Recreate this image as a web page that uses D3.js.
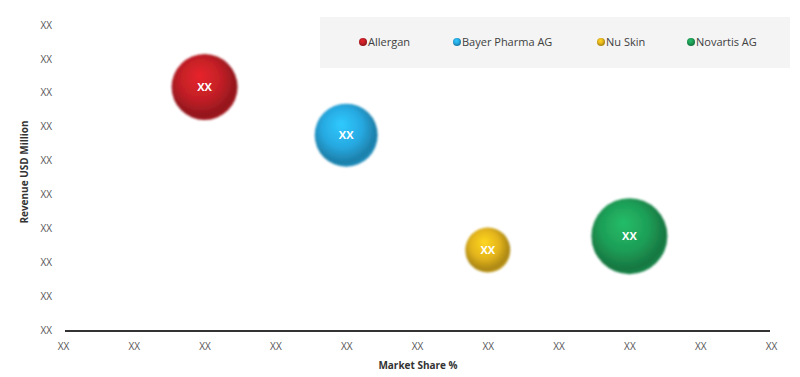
<!DOCTYPE html>
<html><head><meta charset="utf-8">
<script src="https://cdn.jsdelivr.net/npm/d3@7"></script>
<style>body{margin:0;background:#fff;}svg{display:block;font-family:"Open Sans","Liberation Sans",sans-serif;}</style>
</head><body>
<svg id="c" width="800" height="377"></svg>
<script>
const companies = ["Allergan", "Bayer Pharma AG", "Nu Skin", "Novartis AG"];
const marketShare = [2, 4, 6, 8];
const revenue = [7.17, 5.75, 2.36, 2.77];
const bubbleSize = [33, 31.5, 22.5, 38];
const bubbleLabels = ["XX", "XX", "XX", "XX"];
const colors = ["#c21f26", "#27a9e1", "#e3b41c", "#1e9e57"];
const xTickLabels = ["XX","XX","XX","XX","XX","XX","XX","XX","XX","XX","XX"];
const yTickLabels = ["XX","XX","XX","XX","XX","XX","XX","XX","XX","XX"];

const svg = d3.select("#c");
const x = d3.scaleLinear().domain([0, 10]).range([63, 771]);
const y = d3.scaleLinear().domain([0, 9]).range([330, 25]);
const r = d3.scaleLinear().domain([0, 40]).range([0, 40]);

const defs = svg.append("defs");
colors.forEach((c, i) => {
  const g = defs.append("radialGradient").attr("id", "g" + i)
    .attr("cx", "45%").attr("cy", "42%").attr("r", "58%").attr("fx", "42%").attr("fy", "32%");
  g.append("stop").attr("offset", "0%").attr("stop-color", d3.color(c).brighter(0.5));
  g.append("stop").attr("offset", "55%").attr("stop-color", c);
  g.append("stop").attr("offset", "90%").attr("stop-color", d3.color(c).darker(0.8));
  g.append("stop").attr("offset", "100%").attr("stop-color", d3.color(c).darker(0.5));
});
const blur = defs.append("filter").attr("id", "soft").attr("x", "-20%").attr("y", "-20%").attr("width", "140%").attr("height", "140%");
blur.append("feGaussianBlur").attr("stdDeviation", 0.8);

// legend background
svg.append("rect").attr("x", 320).attr("y", 17).attr("width", 470).attr("height", 51).attr("fill", "#f4f4f4");
const legendX = [363, 457, 601, 691];
companies.forEach((name, i) => {
  svg.append("circle").attr("cx", legendX[i]).attr("cy", 42).attr("r", 4).attr("fill", `url(#g${i})`);
  svg.append("text").attr("x", legendX[i] + 5).attr("y", 46).attr("font-size", 11).attr("fill", "#404040").text(name);
});

// y axis ticks
const yAxis = d3.axisLeft(y).tickValues(d3.range(10)).tickFormat((d, i) => yTickLabels[i]).tickSize(0).tickPadding(0);
const yg = svg.append("g").attr("transform", "translate(52,0)").call(yAxis);
yg.select(".domain").remove();
yg.selectAll("text").attr("font-size", 10).attr("fill", "#555").attr("font-family", "Open Sans, sans-serif");

// x axis
const xAxis = d3.axisBottom(x).tickValues(d3.range(11)).tickFormat((d, i) => xTickLabels[i]).tickSize(0).tickPadding(12);
const xg = svg.append("g").attr("transform", "translate(0,331)").call(xAxis);
xg.select(".domain").remove();
xg.selectAll("text").attr("font-size", 10).attr("fill", "#555").attr("font-family", "Open Sans, sans-serif");
svg.append("line").attr("x1", 65).attr("x2", 770).attr("y1", 331).attr("y2", 331).attr("stroke", "#333").attr("stroke-width", 2);

// titles
svg.append("text").attr("x", 418).attr("y", 369).attr("text-anchor", "middle").attr("font-size", 10).attr("font-weight", "bold").attr("fill", "#333").text("Market Share %");
svg.append("text").attr("transform", "translate(28,172) rotate(-90)").attr("text-anchor", "middle").attr("font-size", 10).attr("font-weight", "bold").attr("fill", "#333").text("Revenue USD Million");

// bubbles
const data = companies.map((c, i) => ({c, x: marketShare[i], y: revenue[i], s: bubbleSize[i], l: bubbleLabels[i], i}));
const bg = svg.append("g").selectAll("g").data(data).join("g")
  .attr("transform", d => `translate(${x(d.x)},${y(d.y)})`);
bg.append("circle").attr("r", d => r(d.s)).attr("fill", d => `url(#g${d.i})`).attr("filter", "url(#soft)");
bg.append("text").attr("text-anchor", "middle").attr("dy", "0.35em").attr("font-size", 11).attr("font-weight", "bold").attr("fill", "#fff").text(d => d.l);
</script>
</body></html>
